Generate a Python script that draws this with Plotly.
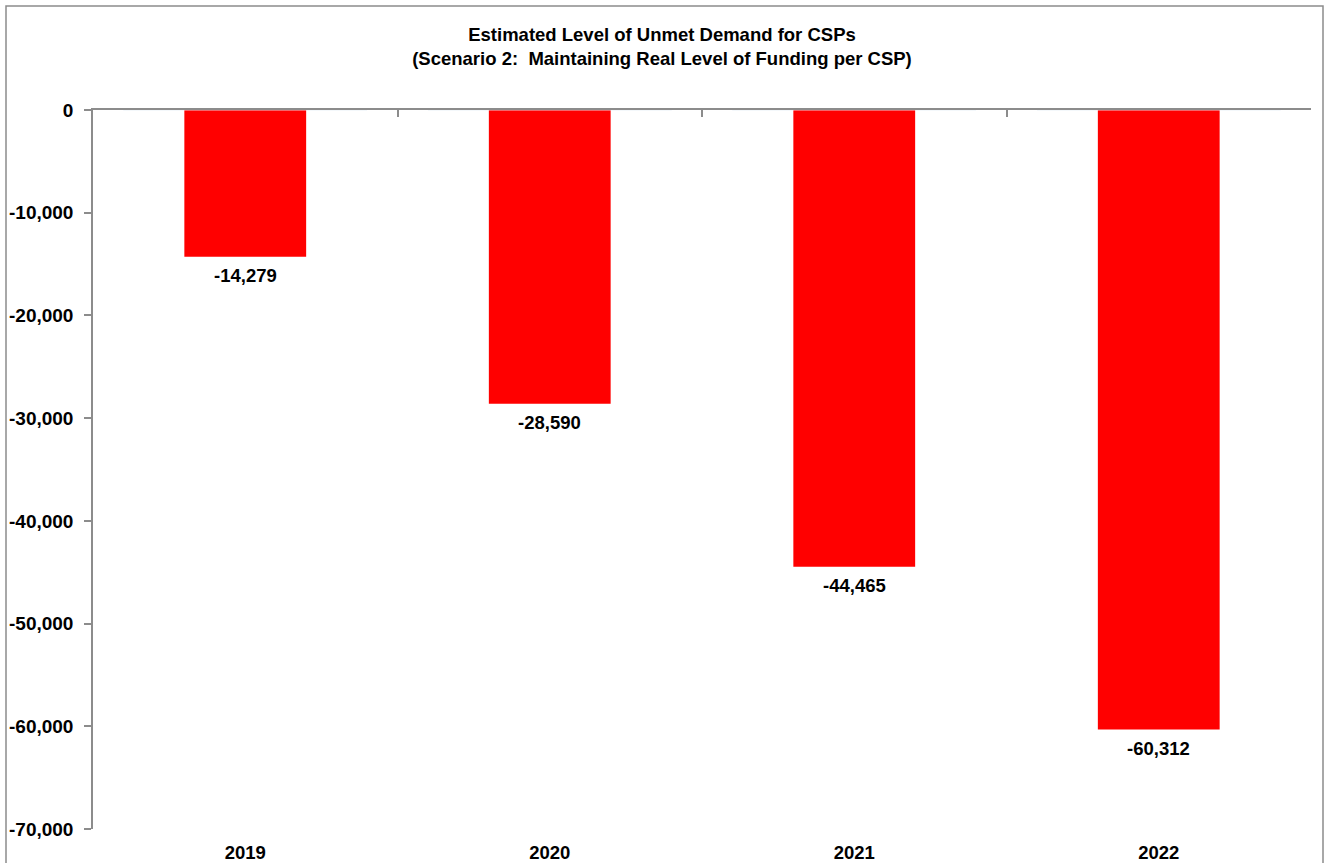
import plotly.graph_objects as go

years = ["2019", "2020", "2021", "2022"]
unmet = [-14279, -28590, -44465, -60312]
ytick_vals = [0, -10000, -20000, -30000, -40000, -50000, -60000, -70000]

font_fam = "Liberation Sans, Arial, sans-serif"

fig = go.Figure()
fig.add_trace(go.Bar(
    x=years, y=unmet, width=0.4,
    marker=dict(color="#FF0000", line=dict(width=0)),
    hoverinfo="x+y",
))
# invisible trace to drive the top (zero-line) category axis
fig.add_trace(go.Bar(x=years, y=[0]*len(years), xaxis="x2", showlegend=False,
                     hoverinfo="skip", marker=dict(color="rgba(0,0,0,0)")))

# data labels placed below each bar end (category index on the category axis)
annotations = [dict(
    x=i, y=v, xref="x", yref="y", text=f"<b>{v:,}</b>", showarrow=False,
    yanchor="middle", yshift=-19,
    font=dict(family=font_fam, size=18.5, color="black"),
) for i, v in enumerate(unmet)]

fig.update_layout(
    width=1324, height=863,
    margin=dict(l=93, r=13, t=110, b=34, autoexpand=False),
    paper_bgcolor="white", plot_bgcolor="white",
    showlegend=False, barmode="overlay",
    title=dict(
        text="<b>Estimated Level of Unmet Demand for CSPs<br>(Scenario 2:  Maintaining Real Level of Funding per CSP)</b>",
        x=0.5, xanchor="center", xref="container",
        yref="container", y=1 - 41 / 863, yanchor="middle",
        font=dict(family=font_fam, size=18.5, color="black"),
    ),
    annotations=annotations,
    xaxis=dict(
        type="category", categoryarray=years, showline=False, ticks="",
        range=[-0.5, len(years) - 0.5], automargin=False,
        showgrid=False, zeroline=False,
        tickfont=dict(family=font_fam, size=18.5, color="black"),
        tickprefix="<b>", ticksuffix="</b>", ticklabelstandoff=10,
    ),
    xaxis2=dict(
        type="category", categoryarray=years, overlaying="x", matches="x",
        side="top", showline=True, linecolor="#8c8c8c", linewidth=1.5,
        ticks="inside", ticklen=7, tickcolor="#8c8c8c", tickwidth=1.5,
        tickson="boundaries", showticklabels=False, showgrid=False,
        zeroline=False, automargin=False,
    ),
    yaxis=dict(
        range=[-70000, 0], tickvals=ytick_vals,
        ticktext=[f"<b>{v:,}</b>" for v in ytick_vals],
        showline=True, linecolor="#8c8c8c", linewidth=1.5,
        ticks="outside", ticklen=7, tickcolor="#8c8c8c", tickwidth=1.5,
        showgrid=False, zeroline=False, ticklabelstandoff=7, automargin=False,
        tickfont=dict(family=font_fam, size=19, color="black"),
    ),
    shapes=[dict(
        type="rect", xref="paper", yref="paper",
        x0=(6 - 93) / 1218, x1=(1323 - 93) / 1218,
        y0=-0.2, y1=1 + (110 - 6) / 719,
        line=dict(color="#8c8c8c", width=1.5), fillcolor="rgba(0,0,0,0)",
        layer="below",
    )],
)

fig.write_html("out.html")
